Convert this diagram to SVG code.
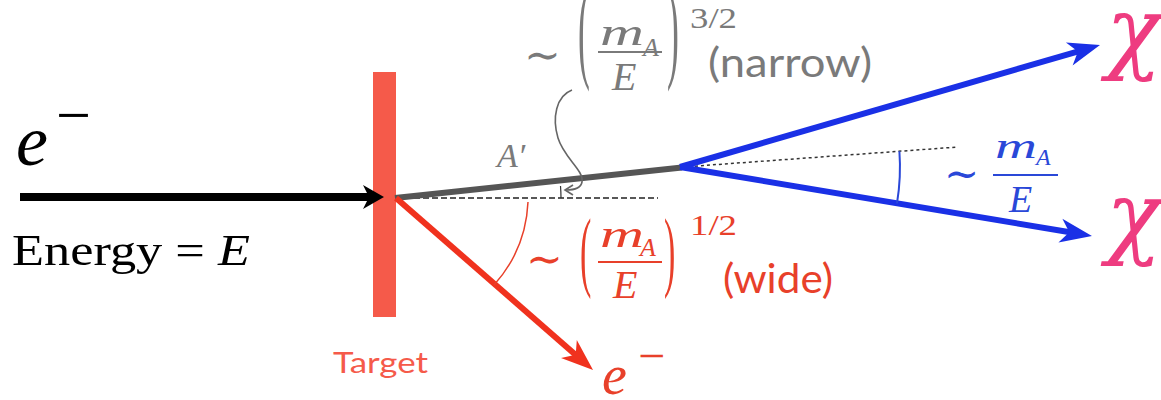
<svg xmlns="http://www.w3.org/2000/svg" width="1161" height="400" viewBox="0 0 1161 400">
<style>
.m{font-family:"Liberation Serif","DejaVu Serif",serif;font-style:italic}
.u{font-family:"Liberation Serif","DejaVu Serif",serif}
.s{font-family:Lato,"Open Sans",sans-serif}
.chi{font-family:"DejaVu Serif","Liberation Serif",serif;font-style:italic;fill:#ee3c80}
.gray{fill:#7a7a7a}
.red{fill:#e8402a}
.blue{fill:#2a48d8}
</style>
<defs>
<marker id="ab" markerUnits="userSpaceOnUse" markerWidth="40" markerHeight="30" viewBox="-25 -15 40 30" refX="0" refY="0" orient="auto" overflow="visible">
<path d="M9,0 L-12,-12 L-6,0 L-12,12 Z" fill="#000"/>
</marker>
<marker id="abl" markerUnits="userSpaceOnUse" markerWidth="50" markerHeight="30" viewBox="-30 -15 50 30" refX="0" refY="0" orient="auto" overflow="visible">
<path d="M10,0 L-22,-12 L-13,0 L-22,12 Z" fill="#1a30e6"/>
</marker>
<marker id="ar" markerUnits="userSpaceOnUse" markerWidth="50" markerHeight="30" viewBox="-30 -15 50 30" refX="0" refY="0" orient="auto" overflow="visible">
<path d="M10,0 L-22,-12 L-13,0 L-22,12 Z" fill="#f0321e"/>
</marker>
</defs>

<g id="target">
<rect x="373" y="72" width="23" height="245" fill="#f55a4a"/>
<text x="333" y="373" class="s" font-size="28" fill="#f55a4a" textLength="95" lengthAdjust="spacingAndGlyphs">Target</text>
</g>

<g id="connectors">
<line x1="20" y1="197" x2="375" y2="197" stroke="#000" stroke-width="8" marker-end="url(#ab)"/>
<line x1="396" y1="198" x2="658" y2="198" stroke="#222" stroke-width="1.5" stroke-dasharray="6,3"/>
<line x1="395" y1="198" x2="682" y2="167.5" stroke="#555" stroke-width="6"/>
<line x1="683" y1="167" x2="958" y2="147" stroke="#333" stroke-width="1.5" stroke-dasharray="3,3"/>
<line x1="680" y1="167" x2="1090.4" y2="47.8" stroke="#1a30e6" stroke-width="6" marker-end="url(#abl)"/>
<line x1="680" y1="167" x2="1082.1" y2="234.3" stroke="#1a30e6" stroke-width="6" marker-end="url(#abl)"/>
<line x1="396" y1="198" x2="585.5" y2="363.4" stroke="#f0321e" stroke-width="6" marker-end="url(#ar)"/>
<path d="M899.4,151.3 A220,220 0 0 1 897,203.3" fill="none" stroke="#2a48d8" stroke-width="2"/>
<path d="M528,202 A133,133 0 0 1 494,285" fill="none" stroke="#e8402a" stroke-width="1.5"/>
<path d="M561,198 A166,166 0 0 0 560.5,186" fill="none" stroke="#333" stroke-width="1.2"/>
<path d="M572,90 C556,96 552,118 558,138 C564,158 584,170 582,182 C581,188 574,190 566,190" fill="none" stroke="#666" stroke-width="1.6"/>
<path d="M573,185 L565,190 L573,195" fill="none" stroke="#666" stroke-width="1.6"/>
</g>

<g id="electron-in">
<text x="16" y="165" class="m" font-size="72">e</text>
<text x="56" y="136" class="u" font-size="62">−</text>
<text x="12" y="265" font-size="44" textLength="238" lengthAdjust="spacingAndGlyphs"><tspan class="u">Energy = </tspan><tspan class="m">E</tspan></text>
</g>

<g id="aprime">
<text x="497" y="167" class="m gray" font-size="34">A′</text>
<text x="524" y="70" class="u gray" font-size="44">∼</text>
<text x="0" y="0" class="u gray" font-size="42" transform="translate(578,67) scale(0.85,2.7)">(</text>
<text x="0" y="0" class="u gray" font-size="42" transform="translate(667,67) scale(0.85,2.7)">)</text>
<text x="600" y="45" class="m gray" font-size="38" textLength="44" lengthAdjust="spacingAndGlyphs">m</text>
<text x="643" y="56" class="m gray" font-size="26">A</text>
<line x1="598" y1="52" x2="662" y2="52" stroke="#7a7a7a" stroke-width="2"/>
<text x="612" y="90" class="m gray" font-size="40">E</text>
<text x="690" y="28" class="u gray" font-size="30" textLength="47" lengthAdjust="spacingAndGlyphs">3/2</text>
<text x="708" y="77" class="s gray" font-size="40" textLength="164" lengthAdjust="spacingAndGlyphs">(narrow)</text>
</g>

<g id="electron-out">
<text x="526" y="274" class="u red" font-size="44">∼</text>
<text x="0" y="0" class="u red" font-size="40" transform="translate(580,280) scale(0.85,2.2)">(</text>
<text x="0" y="0" class="u red" font-size="40" transform="translate(664,280) scale(0.85,2.2)">)</text>
<text x="600" y="247" class="m red" font-size="38" textLength="44" lengthAdjust="spacingAndGlyphs">m</text>
<text x="640" y="256" class="m red" font-size="26">A</text>
<line x1="598" y1="262" x2="662" y2="262" stroke="#e8402a" stroke-width="2"/>
<text x="613" y="298" class="m red" font-size="40">E</text>
<text x="690" y="235" class="u red" font-size="30" textLength="47" lengthAdjust="spacingAndGlyphs">1/2</text>
<text x="723" y="293" class="s red" font-size="40" textLength="110" lengthAdjust="spacingAndGlyphs">(wide)</text>
<text x="602" y="394" class="m red" font-size="56">e</text>
<text x="638" y="372" class="u red" font-size="48">−</text>
</g>

<g id="chi-pair">
<text x="944" y="188" class="u blue" font-size="42">∼</text>
<text x="995" y="158" class="m blue" font-size="36" textLength="42" lengthAdjust="spacingAndGlyphs">m</text>
<text x="1036" y="165" class="m blue" font-size="24">A</text>
<line x1="993" y1="175" x2="1058" y2="175" stroke="#2a48d8" stroke-width="2"/>
<text x="1009" y="212" class="m blue" font-size="38">E</text>
<text x="1106" y="62" class="chi" font-size="92">χ</text>
<text x="1106" y="247" class="chi" font-size="92">χ</text>
</g>
</svg>
